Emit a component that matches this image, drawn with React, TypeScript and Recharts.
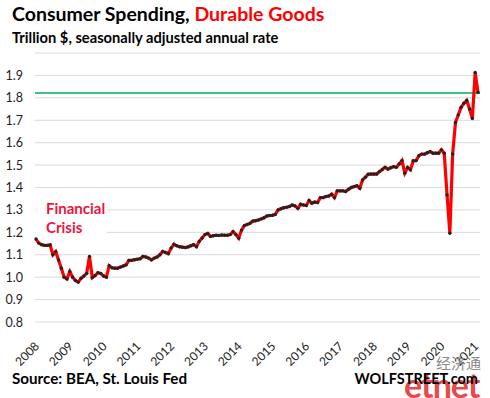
import { LineChart, Line, XAxis, YAxis, CartesianGrid, ReferenceLine } from 'recharts';

// monthly values, trillion $, starting Jan 2008
const startYear = 2008;
const values = [
  // 2008
  1.17, 1.152, 1.145, 1.142, 1.142, 1.144, 1.1, 1.114, 1.077, 1.04, 1.0, 0.992,
  // 2009
  1.025, 1.0, 0.985, 0.978, 0.995, 1.005, 1.017, 1.092, 0.998, 1.007, 1.02, 1.017,
  // 2010
  1.005, 1.0, 1.051, 1.042, 1.04, 1.04, 1.045, 1.05, 1.055, 1.075, 1.075, 1.078,
  // 2011
  1.08, 1.082, 1.092, 1.09, 1.085, 1.077, 1.085, 1.09, 1.1, 1.115, 1.11, 1.105,
  // 2012
  1.13, 1.147, 1.14, 1.136, 1.134, 1.132, 1.135, 1.14, 1.145, 1.136, 1.16, 1.175,
  // 2013
  1.19, 1.195, 1.182, 1.185, 1.187, 1.186, 1.188, 1.187, 1.187, 1.19, 1.203, 1.19,
  // 2014
  1.174, 1.21, 1.23, 1.235, 1.24, 1.25, 1.252, 1.255, 1.26, 1.265, 1.273, 1.275,
  // 2015
  1.276, 1.28, 1.3, 1.305, 1.31, 1.312, 1.315, 1.322, 1.318, 1.307, 1.325, 1.322,
  // 2016
  1.32, 1.342, 1.33, 1.335, 1.333, 1.355, 1.355, 1.36, 1.362, 1.37, 1.355, 1.385,
  // 2017
  1.385, 1.385, 1.382, 1.392, 1.4, 1.404, 1.408, 1.397, 1.434, 1.446, 1.459, 1.46,
  // 2018
  1.46, 1.46, 1.471, 1.48, 1.49, 1.482, 1.488, 1.493, 1.49, 1.505, 1.52, 1.464,
  // 2019
  1.489, 1.479, 1.519, 1.52, 1.542, 1.549, 1.549, 1.555, 1.56, 1.553, 1.553, 1.553,
  // 2020
  1.568, 1.553, 1.367, 1.196, 1.55, 1.69, 1.724, 1.758, 1.776, 1.788, 1.75, 1.708,
  // 2021
  1.913, 1.824,
];
const yTicks = [0.8, 0.9, 1.0, 1.1, 1.2, 1.3, 1.4, 1.5, 1.6, 1.7, 1.8, 1.9];
const yearLabels = ['2008', '2009', '2010', '2011', '2012', '2013', '2014', '2015', '2016', '2017', '2018', '2019', '2020', '2021'];
const peakLine = 1.822;

const data = values.map((v, i) => ({ m: i, v }));
const xTicks = yearLabels.map((_, i) => i * 12);

const FONT = 'Lato, "Open Sans", sans-serif';

function XTick({ x, y, payload }: any) {
  const px = x + 4;
  const py = y + 23;
  return (
    <text x={px} y={py} transform={`rotate(-45 ${px} ${py})`} textAnchor="end" fontSize={12} fill="#222" fontFamily={FONT}>
      {yearLabels[payload.value / 12] ?? String(startYear + payload.value / 12)}
    </text>
  );
}

function YTick({ y, payload }: any) {
  return (
    <text x={23} y={y + 4.5} textAnchor="end" fontSize={12.5} fill="#222" fontFamily={FONT}>
      {payload.value.toFixed(1)}
    </text>
  );
}

export default function App() {
  return (
    <div style={{ position: 'absolute', left: 0, top: 0, width: 490, height: 398, background: '#fff' }}>
      <LineChart width={490} height={398} data={data} margin={{ top: 53, right: 10, bottom: 16, left: 5 }}>
        <CartesianGrid vertical={false} stroke="#d9d9d9" />
        <XAxis
          dataKey="m"
          type="number"
          domain={[0, values.length - 1]}
          ticks={xTicks}
          tick={<XTick />}
          axisLine={false}
          tickLine={false}
          tickSize={0}
          height={60}
          padding={{ left: 1, right: 2 }}
          interval={0}
        />
        <YAxis
          domain={[0.8, 2.0]}
          ticks={yTicks}
          tick={<YTick />}
          axisLine={false}
          tickLine={false}
          width={30}
          interval={0}
        />
        <ReferenceLine y={peakLine} stroke="#00b050" strokeWidth={1.5} />
        <Line
          dataKey="v"
          stroke="#ff0000"
          strokeWidth={3.2}
          dot={{ r: 1.7, fill: '#222', stroke: 'none' }}
          isAnimationActive={false}
        />
      </LineChart>
      <svg width={490} height={398} style={{ position: 'absolute', left: 0, top: 0, pointerEvents: 'none' }} fontFamily={FONT}>
        <text x={12} y={21} fontSize={19.5} fontWeight="bold" fill="#000">
          Consumer Spending, <tspan fill="#ff0000">Durable Goods</tspan>
        </text>
        <text x={12} y={42.5} fontSize={14.7} fontWeight="bold" fill="#000">
          Trillion $, seasonally adjusted annual rate
        </text>
        <rect x={36} y={198} width={71} height={38} fill="#fff" />
        <text x={46} y={213.5} fontSize={15} fontWeight="bold" fill="#f0143c">Financial</text>
        <text x={46} y={232.5} fontSize={15} fontWeight="bold" fill="#f0143c">Crisis</text>
        <text x={12} y={384} fontSize={15.2} fontWeight="bold" fill="#000">Source: BEA, St. Louis Fed</text>
        <text x={436} y={369} fontSize={15} fill="#8a8a8a" fontFamily='"Noto Sans CJK SC", sans-serif'>经济通</text>
        <text x={404} y={398} fontSize={34} fontWeight="bold" fill="#e02a2a" fillOpacity={0.85} letterSpacing={-1}>etnet</text>
        <text x={478} y={384} fontSize={14.5} fontWeight="bold" fill="#000" textAnchor="end">WOLFSTREET.com</text>
      </svg>
    </div>
  );
}
